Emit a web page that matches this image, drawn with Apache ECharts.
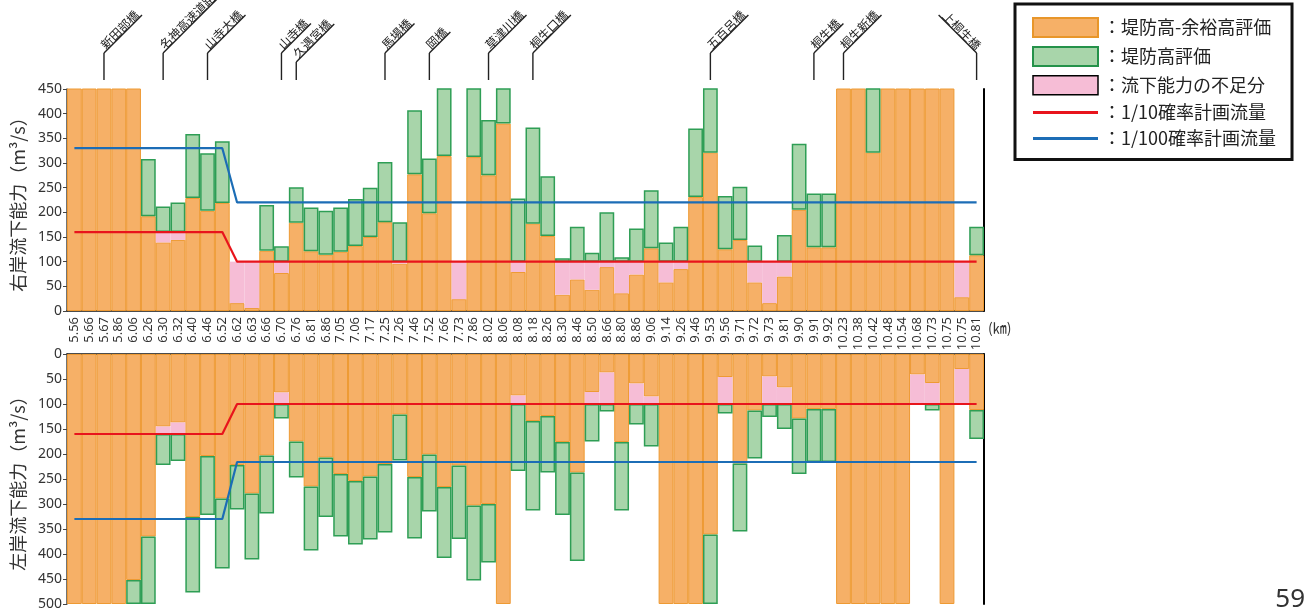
<!DOCTYPE html>
<html><head><meta charset="utf-8">
<script src="https://cdn.jsdelivr.net/npm/echarts@6/dist/echarts.min.js"></script>
<style>html,body{margin:0;padding:0;background:#fff}#c{width:1307px;height:613px}</style>
</head><body><div id="c"></div>
<script>
// ---- data ----
const categories = ['5.56','5.66','5.67','5.86','6.06','6.26','6.30','6.32','6.40','6.46','6.52',
  '6.62','6.63','6.66','6.70','6.76','6.81','6.86',
  '7.05','7.06','7.17','7.25','7.26','7.46','7.52','7.66','7.73','7.86',
  '8.02','8.06','8.08','8.18',
  '8.26','8.30','8.46','8.50','8.66','8.80','8.86',
  '9.06','9.14','9.26','9.46','9.53','9.56','9.71','9.72','9.73','9.81','9.90','9.91','9.92',
  '10.23','10.38','10.42','10.48','10.54','10.68','10.73','10.75','10.75','10.81'];

// right bank (top chart)
const orangeRight = [500,500,500,500,500,192,139,144,229,203,219,
  16,6,122,77,179,121,114,
  120,132,150,180,96,277,198,314,24,312,
  275,380,79,177,
  152,33,64,43,89,36,74,
  127,58,85,231,321,125,144,58,16,70,205,129,129,
  500,500,321,500,500,500,500,500,28,113];
const greenRight = [null,null,null,null,null,308,212,220,359,320,344,
  null,null,215,131,251,210,203,
  210,227,250,302,180,407,309,500,null,500,
  387,500,228,372,
  273,107,171,118,200,109,167,
  245,139,171,370,500,233,252,133,null,154,339,238,238,
  null,null,500,null,null,null,null,null,null,171];
const plan10Right = [160,160,160,160,160,160,160,160,160,160,160,
  100,100,100,100,100,100,100,
  100,100,100,100,100,100,100,100,100,100,
  100,100,100,100,
  100,100,100,100,100,100,100,
  100,100,100,100,100,100,100,100,100,100,100,100,100,
  100,100,100,100,100,100,100,100,100,100];
const plan100Right = [330,330,330,330,330,330,330,330,330,330,330,
  220,220,220,220,220,220,220,
  220,220,220,220,220,220,220,220,220,220,
  220,220,220,220,
  220,220,220,220,220,220,220,
  220,220,220,220,220,220,220,220,220,220,220,220,220,
  220,220,220,220,220,220,220,220,220,220];

// left bank (bottom chart)
const orangeLeft = [500,500,500,500,452,365,145,137,326,204,289,
  222,279,203,77,175,265,207,
  240,254,245,220,121,246,201,266,223,303,
  300,500,83,134,
  124,176,237,76,37,176,59,
  85,500,500,500,361,46,219,113,45,67,129,110,110,
  500,500,500,500,500,41,58,500,30,112];
const greenLeft = [null,null,null,null,500,500,222,214,477,322,429,
  311,411,319,129,247,393,326,
  365,381,371,357,213,369,315,408,370,453,
  417,null,234,313,
  237,322,414,175,115,313,141,
  185,null,null,null,500,119,355,209,126,150,240,216,216,
  null,null,null,null,null,null,113,null,null,170];
const plan10Left = [160,160,160,160,160,160,160,160,160,160,160,
  100,100,100,100,100,100,100,
  100,100,100,100,100,100,100,100,100,100,
  100,100,100,100,
  100,100,100,100,100,100,100,
  100,100,100,100,100,100,100,100,100,100,100,100,100,
  100,100,100,100,100,100,100,100,100,100];
const plan100Left = [330,330,330,330,330,330,330,330,330,330,330,
  216,216,216,216,216,216,216,
  216,216,216,216,216,216,216,216,216,216,
  216,216,216,216,
  216,216,216,216,216,216,216,
  216,216,216,216,216,216,216,216,216,216,216,216,216,
  216,216,216,216,216,216,216,216,216,216];

const yTicksRight = [0,50,100,150,200,250,300,350,400,450];
const yTicksLeft = [0,50,100,150,200,250,300,350,400,450,500];

const bridges = [
  {name:'新田部橋', idx:2}, {name:'名神高速道路', idx:6}, {name:'山寺大橋', idx:9},
  {name:'山寺橋', idx:14}, {name:'久遇宮橋', idx:15, low:true}, {name:'馬場橋', idx:21},
  {name:'岡橋', idx:24}, {name:'草津川橋', idx:28}, {name:'桐生口橋', idx:31},
  {name:'五百呂橋', idx:43}, {name:'桐生橋', idx:50}, {name:'桐生新橋', idx:52},
  {name:'上桐生橋', idx:61, left:true}
];

const N_ORANGE = '堤防高-余裕高評価', N_GREEN = '堤防高評価', N_PINK = '流下能力の不足分',
      N_10 = '1/10確率計画流量', N_100 = '1/100確率計画流量';

// ---- styles ----
const C_OR = '#F6B067', C_ORB = '#EE9A33', C_GR = '#A8D5AA', C_GRB = '#2E9E55',
      C_PK = '#F6BDD6', C_RED = '#E8141C', C_BLUE = '#1C6DB6';
const FONT = '"Noto Sans CJK JP","Noto Sans",sans-serif';

function segments(orange, green, red) {
  const pink = orange.map((o, i) => o < red[i] ? red[i] - o : '-');
  const grn = green.map((g, i) => {
    if (g == null) return '-';
    const base = Math.max(orange[i], red[i]);
    return g > base ? g - base : '-';
  });
  return {pink, grn};
}
const segR = segments(orangeRight, greenRight, plan10Right);
const segL = segments(orangeLeft, greenLeft, plan10Left);

function barSeries(gi, stack, orange, seg) {
  const common = {type:'bar', xAxisIndex:gi, yAxisIndex:gi, stack, barCategoryGap:'0%', silent:true};
  return [
    Object.assign({}, common, {name:N_ORANGE, data:orange,
      itemStyle:{color:C_OR, borderColor:C_ORB, borderWidth:1}}),
    Object.assign({}, common, {name:N_PINK, data:seg.pink,
      itemStyle:{color:C_PK, borderWidth:0}}),
    Object.assign({}, common, {name:N_GREEN, data:seg.grn,
      itemStyle:{color:C_GR, borderColor:C_GRB, borderWidth:1.5}})
  ];
}
function lineSeries(gi, name, data, color) {
  return {type:'line', name, xAxisIndex:gi, yAxisIndex:gi, data, symbol:'none', z:5, silent:true,
    lineStyle:{color, width:2.2}, itemStyle:{color}};
}

const xBase = {type:'category', data:categories, boundaryGap:true};
const yName = {nameLocation:'middle', nameGap:40, nameRotate:90,
  nameTextStyle:{fontSize:18, color:'#333', fontFamily:FONT}};
const LINE_ICON = 'path://M0,0L65,0L65,3L0,3Z';

const option = {
  animation:false,
  backgroundColor:'#fff',
  textStyle:{fontFamily:FONT},
  grid:[
    {left:67, right:323, top:89, height:222},
    {left:67, right:323, top:354, height:250}
  ],
  legend:{
    orient:'vertical', left:1015, top:4, itemWidth:65, itemHeight:19, itemGap:8,
    padding:[13,16,12,17], borderColor:'#111', borderWidth:3, backgroundColor:'#fff',
    symbolKeepAspect:true,
    textStyle:{fontSize:18, color:'#222', fontFamily:FONT},
    formatter: n => '：' + n,
    data:[
      {name:N_ORANGE, icon:'rect', itemStyle:{borderColor:'#E8962A', borderWidth:2}},
      {name:N_GREEN, icon:'rect', itemStyle:{borderColor:'#25924A', borderWidth:2}},
      {name:N_PINK, icon:'rect', itemStyle:{borderColor:'#000', borderWidth:1.5}},
      {name:N_10, icon:LINE_ICON, itemStyle:{color:C_RED, borderWidth:0}},
      {name:N_100, icon:LINE_ICON, itemStyle:{color:C_BLUE, borderWidth:0}}
    ]
  },
  xAxis:[
    Object.assign({}, xBase, {gridIndex:0, position:'bottom',
      name:'(㎞)', nameLocation:'end', nameGap:4,
      nameTextStyle:{fontSize:14, color:'#333', verticalAlign:'top', padding:[10,0,0,0]},
      axisLine:{lineStyle:{color:'#111', width:1.5}},
      axisTick:{inside:true, length:5, lineStyle:{color:'#444'}},
      axisLabel:{rotate:90, fontSize:13, color:'#333', margin:6, interval:0, fontFamily:'"Noto Sans",sans-serif'}}),
    Object.assign({}, xBase, {gridIndex:1, position:'top',
      axisLine:{lineStyle:{color:'#111', width:1.5}},
      axisTick:{inside:true, length:5, lineStyle:{color:'#444'}},
      axisLabel:{show:false}})
  ],
  yAxis:[
    Object.assign({}, yName, {type:'value', gridIndex:0, min:yTicksRight[0], max:yTicksRight[yTicksRight.length-1], interval:50,
      name:'右岸流下能力（m³/s）',
      axisLine:{show:true, lineStyle:{color:'#444', width:1.5}},
      axisTick:{show:true, length:4, lineStyle:{color:'#444'}},
      axisLabel:{fontSize:14, color:'#333', margin:5, fontFamily:'"Noto Sans",sans-serif'},
      splitLine:{show:false}}),
    Object.assign({}, yName, {type:'value', gridIndex:1, inverse:true, min:yTicksLeft[0], max:yTicksLeft[yTicksLeft.length-1], interval:50,
      name:'左岸流下能力（m³/s）',
      axisLine:{show:true, lineStyle:{color:'#444', width:1.5}},
      axisTick:{show:true, length:4, lineStyle:{color:'#444'}},
      axisLabel:{fontSize:14, color:'#333', margin:5, fontFamily:'"Noto Sans",sans-serif'},
      splitLine:{show:false}}),
    {type:'value', gridIndex:0, position:'right', min:0, max:1,
      axisLine:{show:true, lineStyle:{color:'#000', width:2}}, axisTick:{show:false}, axisLabel:{show:false}, splitLine:{show:false}},
    {type:'value', gridIndex:1, position:'right', min:0, max:1,
      axisLine:{show:true, lineStyle:{color:'#000', width:2}}, axisTick:{show:false}, axisLabel:{show:false}, splitLine:{show:false}}
  ],
  series:[
    ...barSeries(0, 'R', orangeRight, segR),
    ...barSeries(1, 'L', orangeLeft, segL),
    lineSeries(0, N_10, plan10Right, C_RED),
    lineSeries(0, N_100, plan100Right, C_BLUE),
    lineSeries(1, N_10, plan10Left, C_RED),
    lineSeries(1, N_100, plan100Left, C_BLUE)
  ]
};

const chart = echarts.init(document.getElementById('c'));
chart.setOption(option);

// bridge annotations placed via the category axis
const g = [];
const stroke = {stroke:'#222', lineWidth:1.4};
bridges.forEach(b => {
  const x = chart.convertToPixel({xAxisIndex:0}, b.idx);
  const top = b.low ? 62 : 53;
  const L = b.name.length * 8.5 + 4;
  const dir = b.left ? -1 : 1;
  g.push({type:'line', silent:true, shape:{x1:x, y1:80, x2:x, y2:top}, style:stroke});
  g.push({type:'line', silent:true, shape:{x1:x, y1:top, x2:x + dir*L, y2:top - L}, style:stroke});
  if (dir > 0) {
    g.push({type:'text', silent:true, x:x + 3, y:top - 2, rotation:Math.PI/4,
      style:{text:b.name, fontSize:12, fill:'#222', align:'left', verticalAlign:'bottom', fontFamily:FONT}});
  } else {
    g.push({type:'text', silent:true, x:x - L + 2, y:top - L + 3, rotation:-Math.PI/4,
      style:{text:b.name, fontSize:12, fill:'#222', align:'left', verticalAlign:'bottom', fontFamily:FONT}});
  }
});
g.push({type:'text', silent:true, right:2, bottom:0,
  style:{text:'59', fontSize:26, fill:'#333', fontFamily:'"Noto Sans",sans-serif'}});
chart.setOption({graphic:g});
</script>
</body></html>
